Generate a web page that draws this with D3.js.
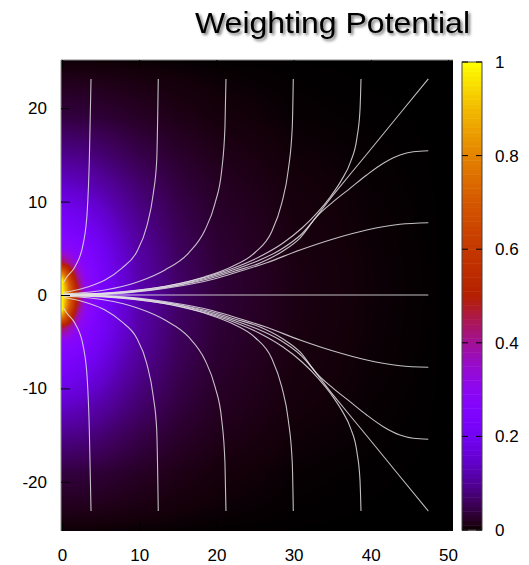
<!DOCTYPE html>
<html>
<head>
<meta charset="utf-8">
<script src="https://cdn.jsdelivr.net/npm/d3@7"></script>
<style>
  body { margin: 0; background: #fff; }
  svg { display: block; }
</style>
</head>
<body>
<div id="plot"></div>
<script>
// grid of the potential (upper half, the map is mirror symmetric about y = 0)
var gridX = [0, 0.5, 1, 2, 3, 5, 7.5, 10, 15, 20, 30, 40, 50];
var gridY = [0, 1, 1.6, 2.5, 3.5, 5, 7, 9, 12, 15, 19, 25];
var potential = [
  [1.0,    0.9,   0.75,  0.5,   0.325,  0.238,  0.175, 0.125,  0.067, 0.037,  0.012,  0.004,  0],
  [1.0,    0.855, 0.71,  0.47,  0.31,   0.23,   0.169, 0.119,  0.066, 0.036,  0.0115, 0.0037, 0],
  [1.0,    0.8,   0.66,  0.433, 0.3,    0.228,  0.168, 0.118,  0.066, 0.036,  0.0115, 0.0037, 0],
  [0.75,   0.667, 0.558, 0.367, 0.284,  0.223,  0.165, 0.116,  0.064, 0.0355, 0.0113, 0.0036, 0],
  [0.45,   0.424, 0.381, 0.3,   0.268,  0.217,  0.161, 0.114,  0.062, 0.034,  0.011,  0.0035, 0],
  [0.2875, 0.28,  0.276, 0.263, 0.247,  0.205,  0.152, 0.109,  0.06,  0.033,  0.01,   0.0033, 0],
  [0.24,   0.239, 0.232, 0.223, 0.212,  0.18,   0.135, 0.1,    0.055, 0.03,   0.0095, 0.003,  0],
  [0.2,    0.2,   0.197, 0.188, 0.178,  0.153,  0.116, 0.089,  0.049, 0.027,  0.0085, 0.0027, 0],
  [0.142,  0.141, 0.138, 0.134, 0.127,  0.111,  0.089, 0.07,   0.039, 0.022,  0.0066, 0.002,  0],
  [0.0925, 0.092, 0.09,  0.088, 0.0845, 0.075,  0.061, 0.047,  0.028, 0.0155, 0.0045, 0.0015, 0],
  [0.04,   0.04,  0.04,  0.039, 0.038,  0.0345, 0.029, 0.0235, 0.014, 0.0074, 0.002,  0.0007, 0],
  [0.004,  0.004, 0.004, 0.004, 0.004,  0.0035, 0.003, 0.0025, 0.0018,0.001,  0.0004, 0.0001, 0]
];

// field lines, upper half (mirrored below), [x, y]
var line1 = [[0.17,1.32],[0.6,1.9],[1.68,3.03],[2.76,5.53],[3.28,9.1],[3.54,14.45],[3.76,23.13]];
var line2 = [[0.13,0.27],[0.82,0.35],[3.41,0.89],[5.57,1.61],[7.73,2.86],[9.67,4.6],[10.97,7.31],[11.83,10.89],[12.27,14.45],[12.47,23.13]];
var line3 = [[0.13,0.11],[1.26,0.16],[5.57,0.54],[9.88,1.42],[13.34,2.68],[16.36,4.46],[18.52,6.96],[19.82,9.82],[20.69,13.38],[21.11,18.02],[21.24,23.13]];
var line4 = [[0.13,0.07],[5.57,0.21],[9.88,0.54],[14.21,1.07],[18.52,1.96],[21.98,3.03],[25.0,4.55],[27.16,6.78],[28.46,9.82],[29.31,13.38],[29.83,18.02],[29.96,23.13]];
var line5 = [[0.13,0.05],[5.57,0.18],[11.4,0.67],[15.28,1.23],[18.91,1.98],[22.41,2.94],[25.65,4.12],[28.63,5.57],[31.09,7.17],[33.16,8.89],[34.84,10.6],[36.2,12.3],[37.4,14.3],[38.2,16.8],[38.6,19.81],[38.73,23.13]];
var line6 = [[0.13,0.04],[5.57,0.15],[11.4,0.59],[15.28,1.12],[18.52,1.77],[21.76,2.57],[25.0,3.53],[28.24,4.82],[30.83,6.37],[35.14,10.73],[39.47,15.07],[43.78,19.43],[47.45,23.13]];
var line7 = [[0.13,0.03],[5.57,0.12],[11.4,0.54],[15.28,1.07],[18.91,1.71],[22.41,2.57],[25.65,3.43],[28.63,4.71],[30.83,6.1],[32.99,8.38],[35.14,9.99],[37.31,11.42],[39.47,12.85],[41.62,14.1],[43.78,14.99],[45.5,15.34],[47.45,15.45]];
var line8 = [[0.13,0.02],[5.57,0.09],[11.4,0.48],[15.28,0.96],[18.91,1.55],[22.19,2.32],[26.52,3.46],[30.83,4.82],[35.14,6.0],[39.47,6.96],[43.78,7.57],[47.45,7.74]];
var centerLine = [[0, 0], [47.45, 0]];

// colour bar of the palette
var paletteStops = [0, 0.005, 0.01, 0.02, 0.05, 0.1, 0.15, 0.2, 0.25, 0.3, 0.35, 0.4, 0.45, 0.5, 0.6, 0.7, 0.8, 0.9, 1];
var paletteColors = ["#000000", "#120008", "#190010", "#240020", "#39004f", "#510096", "#6301cf", "#7202f2", "#7f04ff",
                     "#8c07f2", "#970bcf", "#a11096", "#ab174f", "#b42000", "#c53700", "#d55700", "#e48300", "#f2ba00", "#ffff00"];
var xTicks = [0, 10, 20, 30, 40, 50];
var yTicks = [-20, -10, 0, 10, 20];
var cbTicks = [0, 0.2, 0.4, 0.6, 0.8, 1];

var W = 529, H = 565;
var plotL = 61, plotR = 453, plotT = 60, plotB = 531;
var font = "'Liberation Sans', Arial, Helvetica, sans-serif";

var xScale = d3.scaleLinear().domain([0, 50]).range([62, 448]);
var yScale = d3.scaleLinear().domain([-25, 25]).range([528.5, 61.5]);
var cbScale = d3.scaleLinear().domain([0, 1]).range([530, 62]);
var color = d3.scaleLinear().domain(paletteStops).range(paletteColors).clamp(true);

// fractional grid index through scales
var ix = d3.scaleLinear().domain(gridX).range(gridX.map(function(d, i) { return i; })).clamp(true);
var iy = d3.scaleLinear().domain(gridY).range(gridY.map(function(d, i) { return i; })).clamp(true);

function lookup(x, y) {
    var fx = ix(x), fy = iy(Math.abs(y));
    var i0 = Math.min(Math.floor(fx), gridX.length - 2), j0 = Math.min(Math.floor(fy), gridY.length - 2);
    var tx = fx - i0, ty = fy - j0;
    var a = potential[j0][i0], b = potential[j0][i0 + 1];
    var c = potential[j0 + 1][i0], d = potential[j0 + 1][i0 + 1];
    return (a * (1 - tx) + b * tx) * (1 - ty) + (c * (1 - tx) + d * tx) * ty;
}

var svg = d3.select("#plot").append("svg")
    .attr("width", W)
    .attr("height", H);

var defs = svg.append("defs");
defs.append("filter")
    .attr("id", "shadow")
    .attr("x", "-10%").attr("y", "-30%").attr("width", "120%").attr("height", "160%")
    .append("feDropShadow")
    .attr("dx", 2).attr("dy", 2)
    .attr("stdDeviation", 1.6)
    .attr("flood-color", "#000")
    .attr("flood-opacity", 0.55);

// heat map, painted on a canvas and placed as an image
var cw = plotR - plotL, ch = plotB - plotT;
var canvas = document.createElement("canvas");
canvas.width = cw; canvas.height = ch;
var ctx = canvas.getContext("2d");
var img = ctx.createImageData(cw, ch);
for (var j = 0; j < ch; j++) {
    var yv = yScale.invert(plotT + j + 0.5);
    for (var i = 0; i < cw; i++) {
        var xv = xScale.invert(plotL + i + 0.5);
        var c = d3.rgb(color(lookup(xv, yv)));
        var k = (j * cw + i) * 4;
        img.data[k] = c.r; img.data[k + 1] = c.g; img.data[k + 2] = c.b; img.data[k + 3] = 255;
    }
}
ctx.putImageData(img, 0, 0);

svg.append("image")
    .attr("x", plotL).attr("y", plotT)
    .attr("width", cw).attr("height", ch)
    .attr("href", canvas.toDataURL());

// field lines
var line = d3.line()
    .x(function(d) { return xScale(d[0]); })
    .y(function(d) { return yScale(d[1]); })
    .curve(d3.curveMonotoneX);

var upper = [line1, line2, line3, line4, line5, line6, line7, line8];
var allLines = upper.concat(upper.map(function(l) {
    return l.map(function(p) { return [p[0], -p[1]]; });
}));
allLines.push(centerLine);

svg.append("g")
    .attr("id", "fieldlines")
    .selectAll("path")
    .data(allLines).enter()
    .append("path")
    .attr("d", line)
    .attr("fill", "none")
    .attr("stroke", "#e2e2e2")
    .attr("stroke-opacity", 0.85)
    .attr("stroke-width", 1.1);

// border (gray on top and left)
svg.append("path")
    .attr("d", "M" + plotL + "," + plotB + "V" + plotT + "H" + plotR)
    .attr("fill", "none")
    .attr("stroke", "#8a8a8a")
    .attr("stroke-width", 1);

// axes, ticks point inwards
var fmt = function(d) { return String(d); };
var xAxis = d3.axisBottom(xScale).tickValues(xTicks).tickFormat(fmt).tickSizeInner(-9).tickSizeOuter(0).tickPadding(18);
var yAxis = d3.axisLeft(yScale).tickValues(yTicks).tickFormat(fmt).tickSizeInner(-9).tickSizeOuter(0).tickPadding(14);

var gx = svg.append("g").attr("transform", "translate(0," + plotB + ")").call(xAxis);
var gy = svg.append("g").attr("transform", "translate(" + plotL + ",0)").call(yAxis);
svg.append("g").attr("transform", "translate(0," + plotT + ")")
    .call(d3.axisTop(xScale).tickValues(xTicks).tickSizeInner(-9).tickSizeOuter(0).tickFormat(""));
svg.append("g").attr("transform", "translate(" + plotR + ",0)")
    .call(d3.axisRight(yScale).tickValues(yTicks).tickSizeInner(-9).tickSizeOuter(0).tickFormat(""));

svg.selectAll(".domain").remove();
svg.selectAll(".tick line").attr("stroke", "#000").attr("stroke-width", 1);
[gx, gy].forEach(function(g) {
    g.attr("font-size", 17).attr("font-family", font);
    g.selectAll("text").attr("fill", "#000");
});

// colour bar
var cbX = 462, cbW = 20, nBands = 100;
var bands = d3.range(nBands).map(function(i) { return i / nBands; });
svg.append("g")
    .attr("id", "colorbar")
    .selectAll("rect")
    .data(bands).enter()
    .append("rect")
    .attr("x", cbX)
    .attr("width", cbW)
    .attr("y", function(d) { return cbScale(d + 1 / nBands); })
    .attr("height", function(d) { return cbScale(d) - cbScale(d + 1 / nBands) + 0.5; })
    .attr("fill", function(d) { return color(d + 0.5 / nBands); });

svg.append("rect")
    .attr("x", cbX).attr("y", cbScale(1))
    .attr("width", cbW).attr("height", cbScale(0) - cbScale(1))
    .attr("fill", "none")
    .attr("stroke", "#444")
    .attr("stroke-width", 1);

var cbt = svg.append("g").selectAll("g")
    .data(cbTicks).enter()
    .append("g");
cbt.append("line")
    .attr("x1", cbX).attr("x2", cbX + 6)
    .attr("y1", function(d) { return cbScale(d); })
    .attr("y2", function(d) { return cbScale(d); })
    .attr("stroke", "#000");
cbt.append("line")
    .attr("x1", cbX + cbW - 6).attr("x2", cbX + cbW)
    .attr("y1", function(d) { return cbScale(d); })
    .attr("y2", function(d) { return cbScale(d); })
    .attr("stroke", "#000");
cbt.append("text")
    .attr("x", 495)
    .attr("y", function(d) { return cbScale(d); })
    .attr("dy", "0.35em")
    .attr("font-size", 17)
    .attr("font-family", font)
    .text(function(d) { return String(d); });

// title
svg.append("text")
    .attr("x", 332.5)
    .attr("y", 33)
    .attr("text-anchor", "middle")
    .attr("font-size", 29)
    .attr("font-family", font)
    .attr("textLength", 275)
    .attr("lengthAdjust", "spacingAndGlyphs")
    .attr("filter", "url(#shadow)")
    .text("Weighting Potential");
</script>
</body>
</html>
